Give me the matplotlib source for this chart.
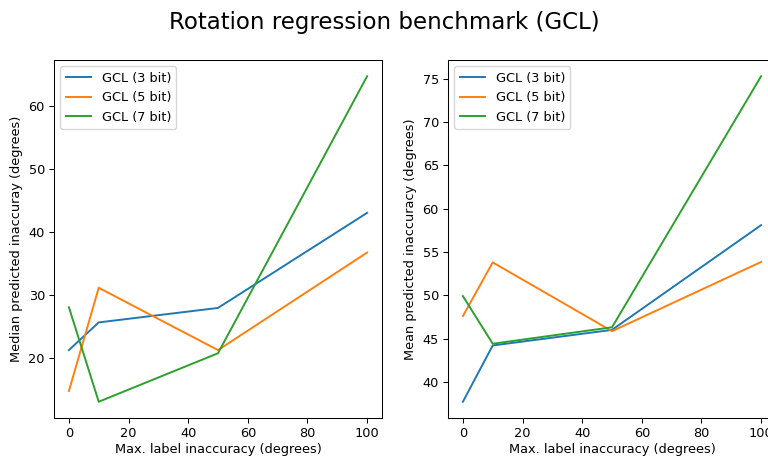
import matplotlib
matplotlib.use('Agg')
import matplotlib.pyplot as plt

# x -> max label inaccuracy (degrees)
x = [0, 10, 50, 100]
labels = ['GCL (3 bit)', 'GCL (5 bit)', 'GCL (7 bit)']

# median predicted inaccuracy
median_3 = [21.3, 25.7, 28.0, 43.1]
median_5 = [14.8, 31.2, 21.3, 36.8]
median_7 = [28.1, 13.1, 20.8, 64.8]

# mean predicted inaccuracy
mean_3 = [37.7, 44.2, 46.0, 58.1]
mean_5 = [47.6, 53.8, 45.85, 53.85]
mean_7 = [49.9, 44.4, 46.3, 75.3]

# the reference looks like a slightly downscaled render
s = 0.93
plt.rcParams['font.size'] = 10 * s
plt.rcParams['lines.linewidth'] = 1.5 * s
plt.rcParams['axes.linewidth'] = 0.8 * s
for a in ['xtick', 'ytick']:
    plt.rcParams[a + '.major.size'] = 3.5 * s
    plt.rcParams[a + '.major.width'] = 0.8 * s
    plt.rcParams[a + '.major.pad'] = 3.5 * s

fig = plt.figure(figsize=(7.68, 4.57), dpi=100)
ax1 = fig.add_axes([54/768, 39/457, 328/768, 358/457])
ax2 = fig.add_axes([448/768, 39/457, 328/768, 358/457])

for y, lab in zip([median_3, median_5, median_7], labels):
    ax1.plot(x, y, label=lab)
for y, lab in zip([mean_3, mean_5, mean_7], labels):
    ax2.plot(x, y, label=lab)

ax1.set_xlabel('Max. label inaccuracy (degrees)', labelpad=2)
ax1.set_ylabel('Median predicted inaccuray (degrees)')
ax1.legend(loc='upper left')

ax2.set_xlabel('Max. label inaccuracy (degrees)', labelpad=2)
ax2.set_ylabel('Mean predicted inaccuracy (degrees)')
ax2.legend(loc='upper left')

fig.suptitle('Rotation regression benchmark (GCL)', fontsize=16.5, y=1 - 22/457, va='center')

fig.savefig('out.png', dpi=100)
